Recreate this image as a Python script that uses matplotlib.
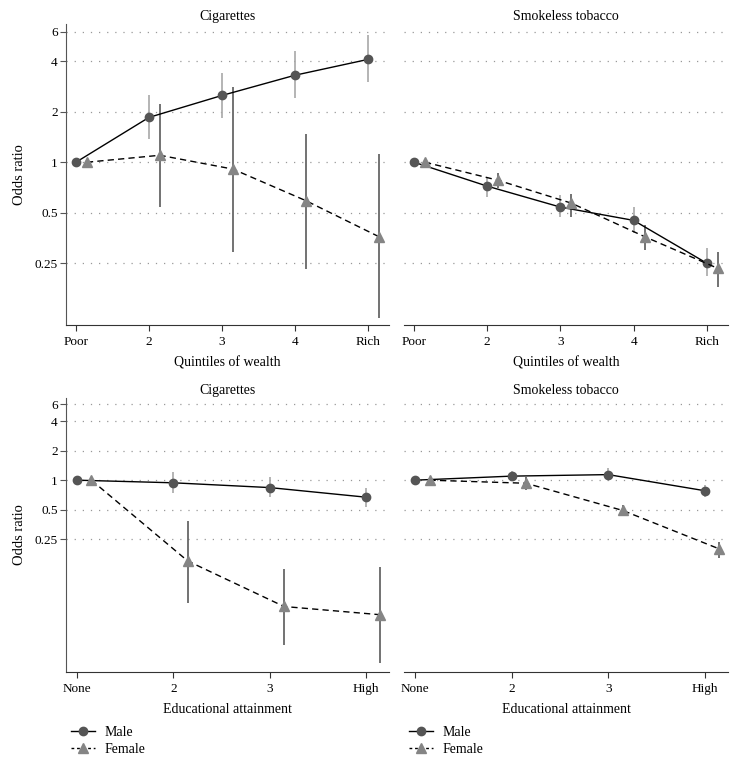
import numpy as np
import matplotlib
matplotlib.use("Agg")
import matplotlib.pyplot as plt
from matplotlib.lines import Line2D

plt.rcParams['font.family'] = ['Liberation Serif', 'DejaVu Serif']
plt.rcParams['font.size'] = 9.5

wealth_labels = ['Poor', '2', '3', '4', 'Rich']
edu_labels = ['None', '2', '3', 'High']
ytick_vals = [0.25, 0.5, 1, 2, 4, 6]
ytick_labels = ['0.25', '0.5', '1', '2', '4', '6']

# cigarettes by wealth
cig_w_male = [1, 1.85, 2.5, 3.3, 4.1]
cig_w_male_lo = [np.nan, 1.37, 1.84, 2.4, 3.0]
cig_w_male_hi = [np.nan, 2.5, 3.4, 4.6, 5.7]
cig_w_fem = [1, 1.1, 0.91, 0.59, 0.36]
cig_w_fem_lo = [np.nan, 0.54, 0.29, 0.23, 0.117]
cig_w_fem_hi = [np.nan, 2.23, 2.8, 1.47, 1.12]

# smokeless by wealth
sl_w_male = [1, 0.72, 0.54, 0.45, 0.25]
sl_w_male_lo = [np.nan, 0.62, 0.47, 0.38, 0.21]
sl_w_male_hi = [np.nan, 0.81, 0.64, 0.54, 0.31]
sl_w_fem = [1, 0.78, 0.57, 0.36, 0.233]
sl_w_fem_lo = [np.nan, 0.70, 0.47, 0.30, 0.18]
sl_w_fem_hi = [np.nan, 0.86, 0.65, 0.42, 0.29]

# cigarettes by education
cig_e_male = [1, 0.94, 0.84, 0.67]
cig_e_male_lo = [np.nan, 0.74, 0.68, 0.53]
cig_e_male_hi = [np.nan, 1.2, 1.07, 0.84]
cig_e_fem = [1, 0.149, 0.051, 0.042]
cig_e_fem_lo = [np.nan, 0.056, 0.0204, 0.0135]
cig_e_fem_hi = [np.nan, 0.385, 0.124, 0.13]

# smokeless by education
sl_e_male = [1, 1.1, 1.14, 0.78]
sl_e_male_lo = [np.nan, 0.97, 1.0, 0.68]
sl_e_male_hi = [np.nan, 1.25, 1.32, 0.89]
sl_e_fem = [1, 0.93, 0.49, 0.198]
sl_e_fem_lo = [np.nan, 0.8, 0.43, 0.16]
sl_e_fem_hi = [np.nan, 1.07, 0.56, 0.235]

W, H = 737, 762
fig = plt.figure(figsize=(W / 100, H / 100), dpi=100)


def px_axes(x0, y0, x1, y1):
    return fig.add_axes([x0 / W, 1 - y1 / H, (x1 - x0) / W, (y1 - y0) / H])


def panel(ax, labels, male, mlo, mhi, fem, flo, fhi, title, xlabel, ylim, xlim, left):
    x = np.arange(len(labels))
    xf = x + 0.15
    ax.set_yscale('log')
    for v in ytick_vals:
        ax.axhline(v, color='#999999', lw=0.9, ls=(0, (1, 5.5)), zorder=0)
    ax.vlines(x, mlo, mhi, color='#a8a8a8', lw=1.2, zorder=1)
    ax.vlines(xf, flo, fhi, color='#5a5a5a', lw=1.2, zorder=1)
    ax.plot(x, male, color='black', lw=1.0, marker='o', ms=6,
            mfc='#555555', mec='#555555', zorder=3)
    ax.plot(xf, fem, color='black', lw=1.0, ls=(0, (4.5, 3)), marker='^', ms=6.5,
            mfc='#858585', mec='#858585', zorder=3)
    ax.set_ylim(*ylim)
    ax.set_xlim(*xlim)
    ax.set_xticks(x)
    ax.set_xticklabels(labels)
    ax.minorticks_off()
    ax.set_yticks(ytick_vals)
    ax.spines['top'].set_visible(False)
    ax.spines['right'].set_visible(False)
    ax.spines['bottom'].set_color('#333333')
    ax.tick_params(axis='x', length=4, width=0.8, color='#333333', pad=4)
    if left:
        ax.set_yticklabels(ytick_labels)
        ax.spines['left'].set_color('#555555')
        ax.tick_params(axis='y', length=4, width=0.8, color='#555555', pad=2)
        ax.set_ylabel('Odds ratio', fontsize=10.5, labelpad=6)
    else:
        ax.spines['left'].set_visible(False)
        ax.tick_params(axis='y', length=0, labelleft=False)
    ax.set_title(title, fontsize=10, pad=3)
    ax.set_xlabel(xlabel, fontsize=10, labelpad=6)
    ax.set_facecolor('none')


top_ylim = (0.107, 6.67)
bot_ylim = (0.0109, 6.93)
top_xlim = (-0.137, 4.29)
bot_xlim = (-0.114, 3.24)

ax1 = px_axes(66, 24, 389, 325)
panel(ax1, wealth_labels, cig_w_male, cig_w_male_lo, cig_w_male_hi,
      cig_w_fem, cig_w_fem_lo, cig_w_fem_hi, 'Cigarettes', 'Quintiles of wealth',
      top_ylim, top_xlim, True)
ax2 = px_axes(404, 24, 728, 325)
panel(ax2, wealth_labels, sl_w_male, sl_w_male_lo, sl_w_male_hi,
      sl_w_fem, sl_w_fem_lo, sl_w_fem_hi, 'Smokeless tobacco', 'Quintiles of wealth',
      top_ylim, top_xlim, False)
ax3 = px_axes(66, 398, 389, 672)
panel(ax3, edu_labels, cig_e_male, cig_e_male_lo, cig_e_male_hi,
      cig_e_fem, cig_e_fem_lo, cig_e_fem_hi, 'Cigarettes', 'Educational attainment',
      bot_ylim, bot_xlim, True)
ax4 = px_axes(404, 398, 728, 672)
panel(ax4, edu_labels, sl_e_male, sl_e_male_lo, sl_e_male_hi,
      sl_e_fem, sl_e_fem_lo, sl_e_fem_hi, 'Smokeless tobacco', 'Educational attainment',
      bot_ylim, bot_xlim, False)

handles = [
    Line2D([], [], color='black', lw=1.0, marker='o', ms=6, mfc='#555555', mec='#555555'),
    Line2D([], [], color='black', lw=1.0, ls=(0, (2, 2)), marker='^', ms=6.5,
           mfc='#858585', mec='#858585'),
]
for xpx in (71, 409):
    fig.legend(handles, ['Male', 'Female'], loc='upper left',
               bbox_to_anchor=(xpx / W, 1 - 726 / H), frameon=False,
               handlelength=1.7, handletextpad=0.7, labelspacing=0.3,
               fontsize=10, borderaxespad=0, borderpad=0)

fig.savefig('out.png', dpi=100)
